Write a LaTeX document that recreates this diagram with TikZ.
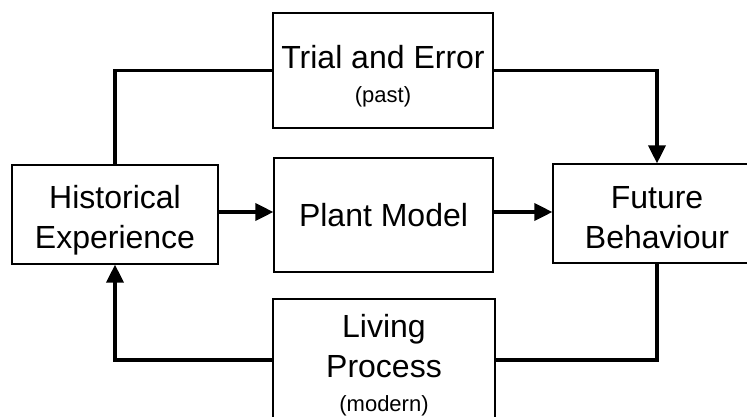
\documentclass[tikz,border=0pt]{standalone}
\usepackage{fontspec}
\setmainfont{Liberation Sans}
\usetikzlibrary{arrows.meta}
\tikzset{
  blockbox/.style={draw=black, line width=1.2pt, rectangle, inner sep=0pt,
    align=center, font=\fontsize{32}{40}\selectfont},
  flow/.style={line width=3.6pt, line cap=butt, line join=miter},
  flowarrow/.style={flow, -{Triangle[length=18pt,width=17pt]}}
}
\newcommand{\subnote}[1]{{\fontsize{22}{26}\selectfont #1}}
\newcommand{\topgap}[1]{\rule{0pt}{#1}}
\begin{document}
\begin{tikzpicture}[x=1pt,y=-1pt]
  \useasboundingbox (0,0) rectangle (747,416);
  \clip (0,0) rectangle (747,416);

  % blocks
  \node[blockbox, minimum width=220pt, minimum height=115pt] (trial) at (383,70.5)
    {\topgap{34pt}Trial and Error\\[-6pt]\subnote{(past)}};
  \node[blockbox, minimum width=206pt, minimum height=99pt] (hist) at (115,214.5)
    {\topgap{34pt}Historical\\Experience};
  \node[blockbox, minimum width=219pt, minimum height=114pt] (plant) at (383.5,215)
    {Plant Model};
  \node[blockbox, minimum width=208pt, minimum height=99pt] (future) at (657,213.5)
    {\topgap{30pt}Future\\Behaviour};
  \node[blockbox, minimum width=222pt, minimum height=122pt] (living) at (384,360)
    {\topgap{34pt}Living\\Process\\[-6pt]\subnote{(modern)}};

  % row of the straight arrows
  \coordinate (midrow) at (0,212);

  % connectors
  \draw[flow] (hist.north) |- (trial.west);
  \draw[flowarrow] (trial.east) -| (future.north);
  \draw[flowarrow] (hist.east |- midrow) -- (plant.west |- midrow);
  \draw[flowarrow] (plant.east |- midrow) -- (future.west |- midrow);
  \draw[flow] (living.east) -| (future.south);
  \draw[flowarrow] (living.west) -| (hist.south);
\end{tikzpicture}
\end{document}
